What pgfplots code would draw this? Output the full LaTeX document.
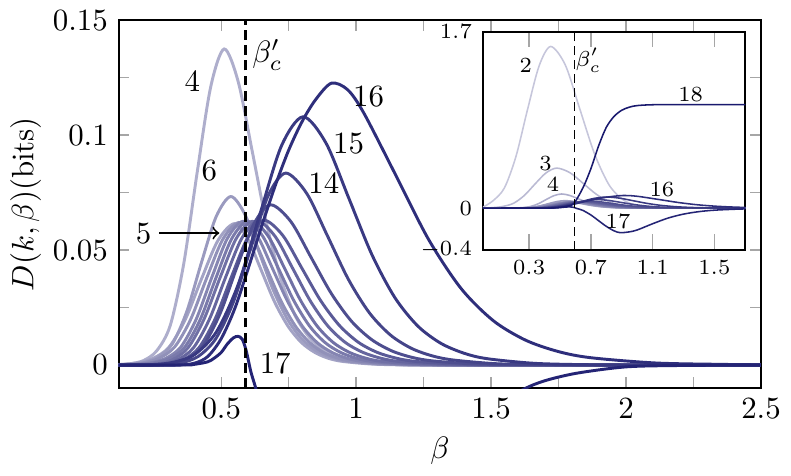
\documentclass[border=0pt]{standalone}
\usepackage{pgfplots}
\usepackage{pgfplotstable}
\pgfplotsset{compat=1.18}

\definecolor{nb}{RGB}{25,25,110}
\colorlet{c2}{nb!25!white}
\colorlet{c3}{nb!30!white}
\colorlet{c4}{nb!35!white}
\colorlet{c5}{nb!40!white}
\colorlet{c6}{nb!44!white}
\colorlet{c7}{nb!48!white}
\colorlet{c8}{nb!53!white}
\colorlet{c9}{nb!58!white}
\colorlet{c10}{nb!62!white}
\colorlet{c11}{nb!67!white}
\colorlet{c12}{nb!72!white}
\colorlet{c13}{nb!77!white}
\colorlet{c14}{nb!81!white}
\colorlet{c15}{nb!86!white}
\colorlet{c16}{nb!91!white}
\colorlet{c17}{nb!95!white}
\colorlet{c18}{nb}

% D(k,beta), one table per k
\pgfplotstableread{
x y
0.12 0.0002
0.161 0.00055
0.211 0.0019
0.261 0.0062
0.311 0.0172
0.361 0.044
0.411 0.0839
0.461 0.121
0.511 0.1375
0.5635 0.1230
0.616 0.0923
0.6685 0.0613
0.721 0.0375
0.7735 0.0216
0.826 0.0121
0.8785 0.0066
0.931 0.0036
1.036 0.0010
1.141 0.0003
1.246 0.0001
1.4 0
2.5 0
}\dFour
\pgfplotstableread{
x y
0.12 0.0002
0.185 0.0009
0.2455 0.0028
0.306 0.0077
0.3665 0.0197
0.427 0.0375
0.4875 0.0541
0.548 0.0615
0.598 0.0550
0.648 0.0413
0.698 0.0274
0.748 0.0168
0.798 0.0097
0.848 0.0054
0.898 0.0029
0.948 0.0016
1.048 0.0005
1.148 0.0001
1.3 0
2.5 0
}\dFive
\pgfplotstableread{
x y
0.12 0.0001
0.157 0.0003
0.211 0.001
0.265 0.0033
0.319 0.0092
0.373 0.0235
0.427 0.0447
0.481 0.0645
0.535 0.0733
0.5875 0.0656
0.64 0.0492
0.6925 0.0327
0.745 0.0200
0.7975 0.0115
0.85 0.0064
0.9025 0.0035
0.955 0.0019
1.06 0.0006
1.165 0.0002
1.3 0
2.5 0
}\dSix
\pgfplotstableread{
x y
0.12 0.0001
0.1485 0.00025
0.208 0.00087
0.2675 0.0028
0.327 0.0078
0.3865 0.0198
0.446 0.0378
0.5055 0.0546
0.565 0.062
0.6175 0.0555
0.67 0.0416
0.7225 0.0276
0.775 0.0169
0.8275 0.0098
0.88 0.0054
0.9325 0.0030
0.985 0.0016
1.09 0.0005
1.195 0.0001
1.35 0
2.5 0
}\dSeven
\pgfplotstableread{
x y
0.12 0
0.1775 0.00025
0.235 0.0009
0.2925 0.0028
0.35 0.0078
0.4075 0.02
0.465 0.0381
0.5225 0.055
0.58 0.0625
0.635 0.0559
0.69 0.0420
0.745 0.0279
0.80 0.0170
0.855 0.0098
0.91 0.0055
0.965 0.0030
1.02 0.0016
1.13 0.0005
1.24 0.0001
1.4 0
2.5 0
}\dEight
\pgfplotstableread{
x y
0.12 0
0.191 0.00025
0.249 0.0009
0.307 0.0028
0.365 0.0078
0.423 0.02
0.481 0.0381
0.539 0.055
0.597 0.0625
0.6545 0.0559
0.712 0.0420
0.7695 0.0279
0.827 0.0170
0.8845 0.0098
0.942 0.0055
0.9995 0.0030
1.057 0.0016
1.172 0.0005
1.287 0.0001
1.45 0
2.5 0
}\dNine
\pgfplotstableread{
x y
0.12 0
0.1985 0
0.258 0.0004
0.3175 0.0022
0.377 0.0075
0.4365 0.02
0.496 0.0381
0.5555 0.055
0.615 0.0625
0.675 0.0559
0.735 0.0420
0.795 0.0279
0.855 0.0170
0.915 0.0098
0.975 0.0055
1.035 0.0030
1.095 0.0016
1.215 0.0005
1.335 0.0001
1.5 0
2.5 0
}\dTen
\pgfplotstableread{
x y
0.12 0
0.2185 0
0.278 0.0004
0.3375 0.0022
0.397 0.0075
0.4565 0.02
0.516 0.0381
0.5755 0.055
0.635 0.0625
0.70 0.0559
0.765 0.0420
0.83 0.0279
0.895 0.0170
0.96 0.0098
1.025 0.0055
1.09 0.0030
1.155 0.0016
1.285 0.0005
1.415 0.0001
1.6 0
2.5 0
}\dEleven
\pgfplotstableread{
x y
0.12 0
0.238 0
0.298 0.0004
0.358 0.0022
0.418 0.0076
0.478 0.0202
0.538 0.0384
0.598 0.0554
0.658 0.063
0.728 0.0564
0.798 0.0423
0.868 0.0281
0.938 0.0172
1.008 0.0099
1.078 0.0055
1.148 0.0030
1.218 0.0016
1.358 0.0005
1.498 0.0001
1.7 0
2.5 0
}\dTwelve
\pgfplotstableread{
x y
0.12 0
0.2455 0
0.308 0.0005
0.3705 0.0024
0.433 0.0084
0.4955 0.0223
0.558 0.0425
0.6205 0.0613
0.683 0.0697
0.758 0.0624
0.833 0.0468
0.908 0.0311
0.983 0.0190
1.058 0.0110
1.133 0.0061
1.208 0.0033
1.283 0.0018
1.433 0.0005
1.583 0.0002
1.8 0
2.5 0
}\dThirteen
\pgfplotstableread{
x y
0.12 0
0.284 0.0002
0.349 0.0009
0.414 0.0037
0.479 0.0113
0.544 0.0271
0.609 0.0506
0.674 0.0737
0.739 0.0835
0.8165 0.0747
0.894 0.0561
0.9715 0.0372
1.049 0.0227
1.1265 0.0131
1.204 0.0073
1.2815 0.0040
1.359 0.0022
1.514 0.0006
1.669 0.0002
1.9 0
2.5 0
}\dFourteen
\pgfplotstableread{
x y
0.12 0
0.243 0.0002
0.323 0.0012
0.403 0.0047
0.483 0.0146
0.563 0.0351
0.643 0.0655
0.723 0.0953
0.803 0.108
0.888 0.0966
0.973 0.0725
1.058 0.0481
1.143 0.0294
1.228 0.0170
1.313 0.0095
1.398 0.0052
1.483 0.0028
1.653 0.0008
1.823 0.0002
2.05 0
2.5 0
}\dFifteen
\pgfplotstableread{
x y
0.12 0
0.33 0
0.40 0.0008
0.45 0.0037
0.5 0.0115
0.55 0.0245
0.6 0.042
0.65 0.0605
0.7 0.078
0.75 0.0935
0.8 0.106
0.85 0.1155
0.908 0.1226
0.968 0.1198
1.028 0.1097
1.148 0.0823
1.268 0.0547
1.388 0.0334
1.508 0.0193
1.628 0.0108
1.748 0.0059
1.868 0.0032
2.108 0.0009
2.348 0.0003
2.5 0.0001
}\dSixteen
\pgfplotstableread{
x y
0 0
0.35 0
0.4 0.0003
0.45 0.0014
0.474 0.003
0.5 0.0055
0.523 0.0092
0.545 0.0118
0.562 0.0125
0.578 0.0112
0.593 0.006
0.61 -0.003
0.63 -0.011
0.65 -0.022
0.7 -0.065
0.75 -0.12
0.8 -0.175
0.85 -0.218
0.89 -0.236
0.95 -0.228
1.0 -0.21
1.1 -0.15
1.2 -0.095
1.3 -0.057
1.4 -0.033
1.5 -0.019
1.618 -0.0107
1.7 -0.0068
1.82 -0.0035
2.0 -0.0008
2.2 -0.0002
2.5 0
}\dSeventeen
% inset only
\pgfplotstableread{
x y
0 0.01
0.065 0.07
0.14 0.195
0.215 0.499
0.29 0.952
0.365 1.373
0.44 1.56
0.535 1.38
0.63 0.95
0.725 0.52
0.82 0.22
0.915 0.075
1.01 0.022
1.105 0.006
1.2 0.0015
1.4 0
1.7 0
}\dTwo
\pgfplotstableread{
x y
0 0.002
0.06 0.005
0.13 0.017
0.2 0.048
0.27 0.124
0.34 0.236
0.41 0.341
0.48 0.387
0.565 0.342
0.65 0.24
0.735 0.135
0.82 0.062
0.905 0.025
0.99 0.0097
1.075 0.0035
1.16 0.0012
1.33 0
1.7 0
}\dThree
\pgfplotstableread{
x y
0 0
0.4 0.001
0.45 0.003
0.5 0.008
0.55 0.02
0.59 0.045
0.65 0.2
0.7 0.38
0.75 0.6
0.8 0.78
0.85 0.885
0.9 0.945
0.95 0.975
1.0 0.99
1.1 0.998
1.3 1.0
1.7 1.0
}\dEighteen

\begin{document}
\begin{tikzpicture}
\begin{axis}[name=main,
  width=208pt, height=119.1pt, scale only axis,
  xmin=0.12, xmax=2.5, ymin=-0.01, ymax=0.15,
  xtick={0.5,1,1.5,2,2.5}, ytick={0,0.05,0.1,0.15},
  minor x tick num=1, minor y tick num=1,
  major tick length=3.5pt, minor tick length=3.5pt,
  tick style={gray!70, line width=0.45pt},
  axis line style={line width=0.7pt},
  yticklabel style={/pgf/number format/fixed, /pgf/number format/precision=2},
  xlabel={$\beta$}, ylabel={$D(k,\beta)(\mathrm{bits})$},
  xlabel style={at={(axis description cs:0.5,-0.172)}, anchor=center},
  ylabel style={at={(axis description cs:-0.1447,0.5)}, anchor=center},
  cv/.style={smooth, line width=0.95pt, mark=none}]
\addplot[cv, c4] table {\dFour};
\addplot[cv, c5] table {\dFive};
\addplot[cv, c6] table {\dSix};
\addplot[cv, c7] table {\dSeven};
\addplot[cv, c8] table {\dEight};
\addplot[cv, c9] table {\dNine};
\addplot[cv, c10] table {\dTen};
\addplot[cv, c11] table {\dEleven};
\addplot[cv, c12] table {\dTwelve};
\addplot[cv, c13] table {\dThirteen};
\addplot[cv, c14] table {\dFourteen};
\addplot[cv, c15] table {\dFifteen};
\addplot[cv, c16] table {\dSixteen};
\addplot[cv, c17] table {\dSeventeen};
\addplot[black, mark=none, line width=0.9pt, dash pattern=on 3.2pt off 1.7pt] coordinates {(0.59,-0.01) (0.59,0.15)};
\node at (axis cs:0.393,0.1235) {4};
\node at (axis cs:0.456,0.0848) {6};
\node at (axis cs:0.212,0.0574) {5};
\draw[->, line width=0.6pt] (axis cs:0.271,0.0574) -- (axis cs:0.493,0.0574);
\node at (axis cs:0.88,0.0793) {14};
\node at (axis cs:0.972,0.0965) {15};
\node at (axis cs:1.046,0.117) {16};
\node at (axis cs:0.70,0.0005) {17};
\node at (axis cs:0.671,0.135) {$\beta'_c$};
\end{axis}
\path ([xshift=-38.3pt,yshift=-26.4pt]main.south west) rectangle ([xshift=8.4pt,yshift=6.4pt]main.north east);
\begin{axis}[name=inset,
  at={(main.south west)}, anchor=south west, xshift=117.9pt, yshift=44.8pt,
  width=85pt, height=70.5pt, scale only axis,
  xmin=0, xmax=1.7, ymin=-0.4, ymax=1.7,
  xtick={0.3,0.7,1.1,1.5}, ytick={-0.4,0,1.7},
  ticklabel style={font=\scriptsize},
  xtick style={gray!70, line width=0.45pt}, major tick length=5pt,
  ytick style={draw=none},
  axis line style={line width=0.6pt},
  axis background/.style={fill=white},
  cv/.style={smooth, line width=0.5pt, mark=none}]
\addplot[cv, c2] table {\dTwo};
\addplot[cv, c3] table {\dThree};
\addplot[cv, c4] table {\dFour};
\addplot[cv, c5] table {\dFive};
\addplot[cv, c6] table {\dSix};
\addplot[cv, c7] table {\dSeven};
\addplot[cv, c8] table {\dEight};
\addplot[cv, c9] table {\dNine};
\addplot[cv, c10] table {\dTen};
\addplot[cv, c11] table {\dEleven};
\addplot[cv, c12] table {\dTwelve};
\addplot[cv, c13] table {\dThirteen};
\addplot[cv, c14] table {\dFourteen};
\addplot[cv, c15] table {\dFifteen};
\addplot[cv, c16] table {\dSixteen};
\addplot[cv, c17] table {\dSeventeen};
\addplot[cv, c18] table {\dEighteen};
\addplot[black, mark=none, line width=0.55pt, dash pattern=on 2.8pt off 1.7pt] coordinates {(0.594,-0.4) (0.594,1.7)};
\begin{scope}[font=\scriptsize]
\node at (axis cs:0.278,1.378) {2};
\node at (axis cs:0.684,1.426) {$\beta'_c$};
\node at (axis cs:1.346,1.092) {18};
\node at (axis cs:0.406,0.435) {3};
\node at (axis cs:0.455,0.229) {4};
\node at (axis cs:1.16,0.181) {16};
\node at (axis cs:0.876,-0.13) {17};
\end{scope}
\end{axis}
\end{tikzpicture}
\end{document}
